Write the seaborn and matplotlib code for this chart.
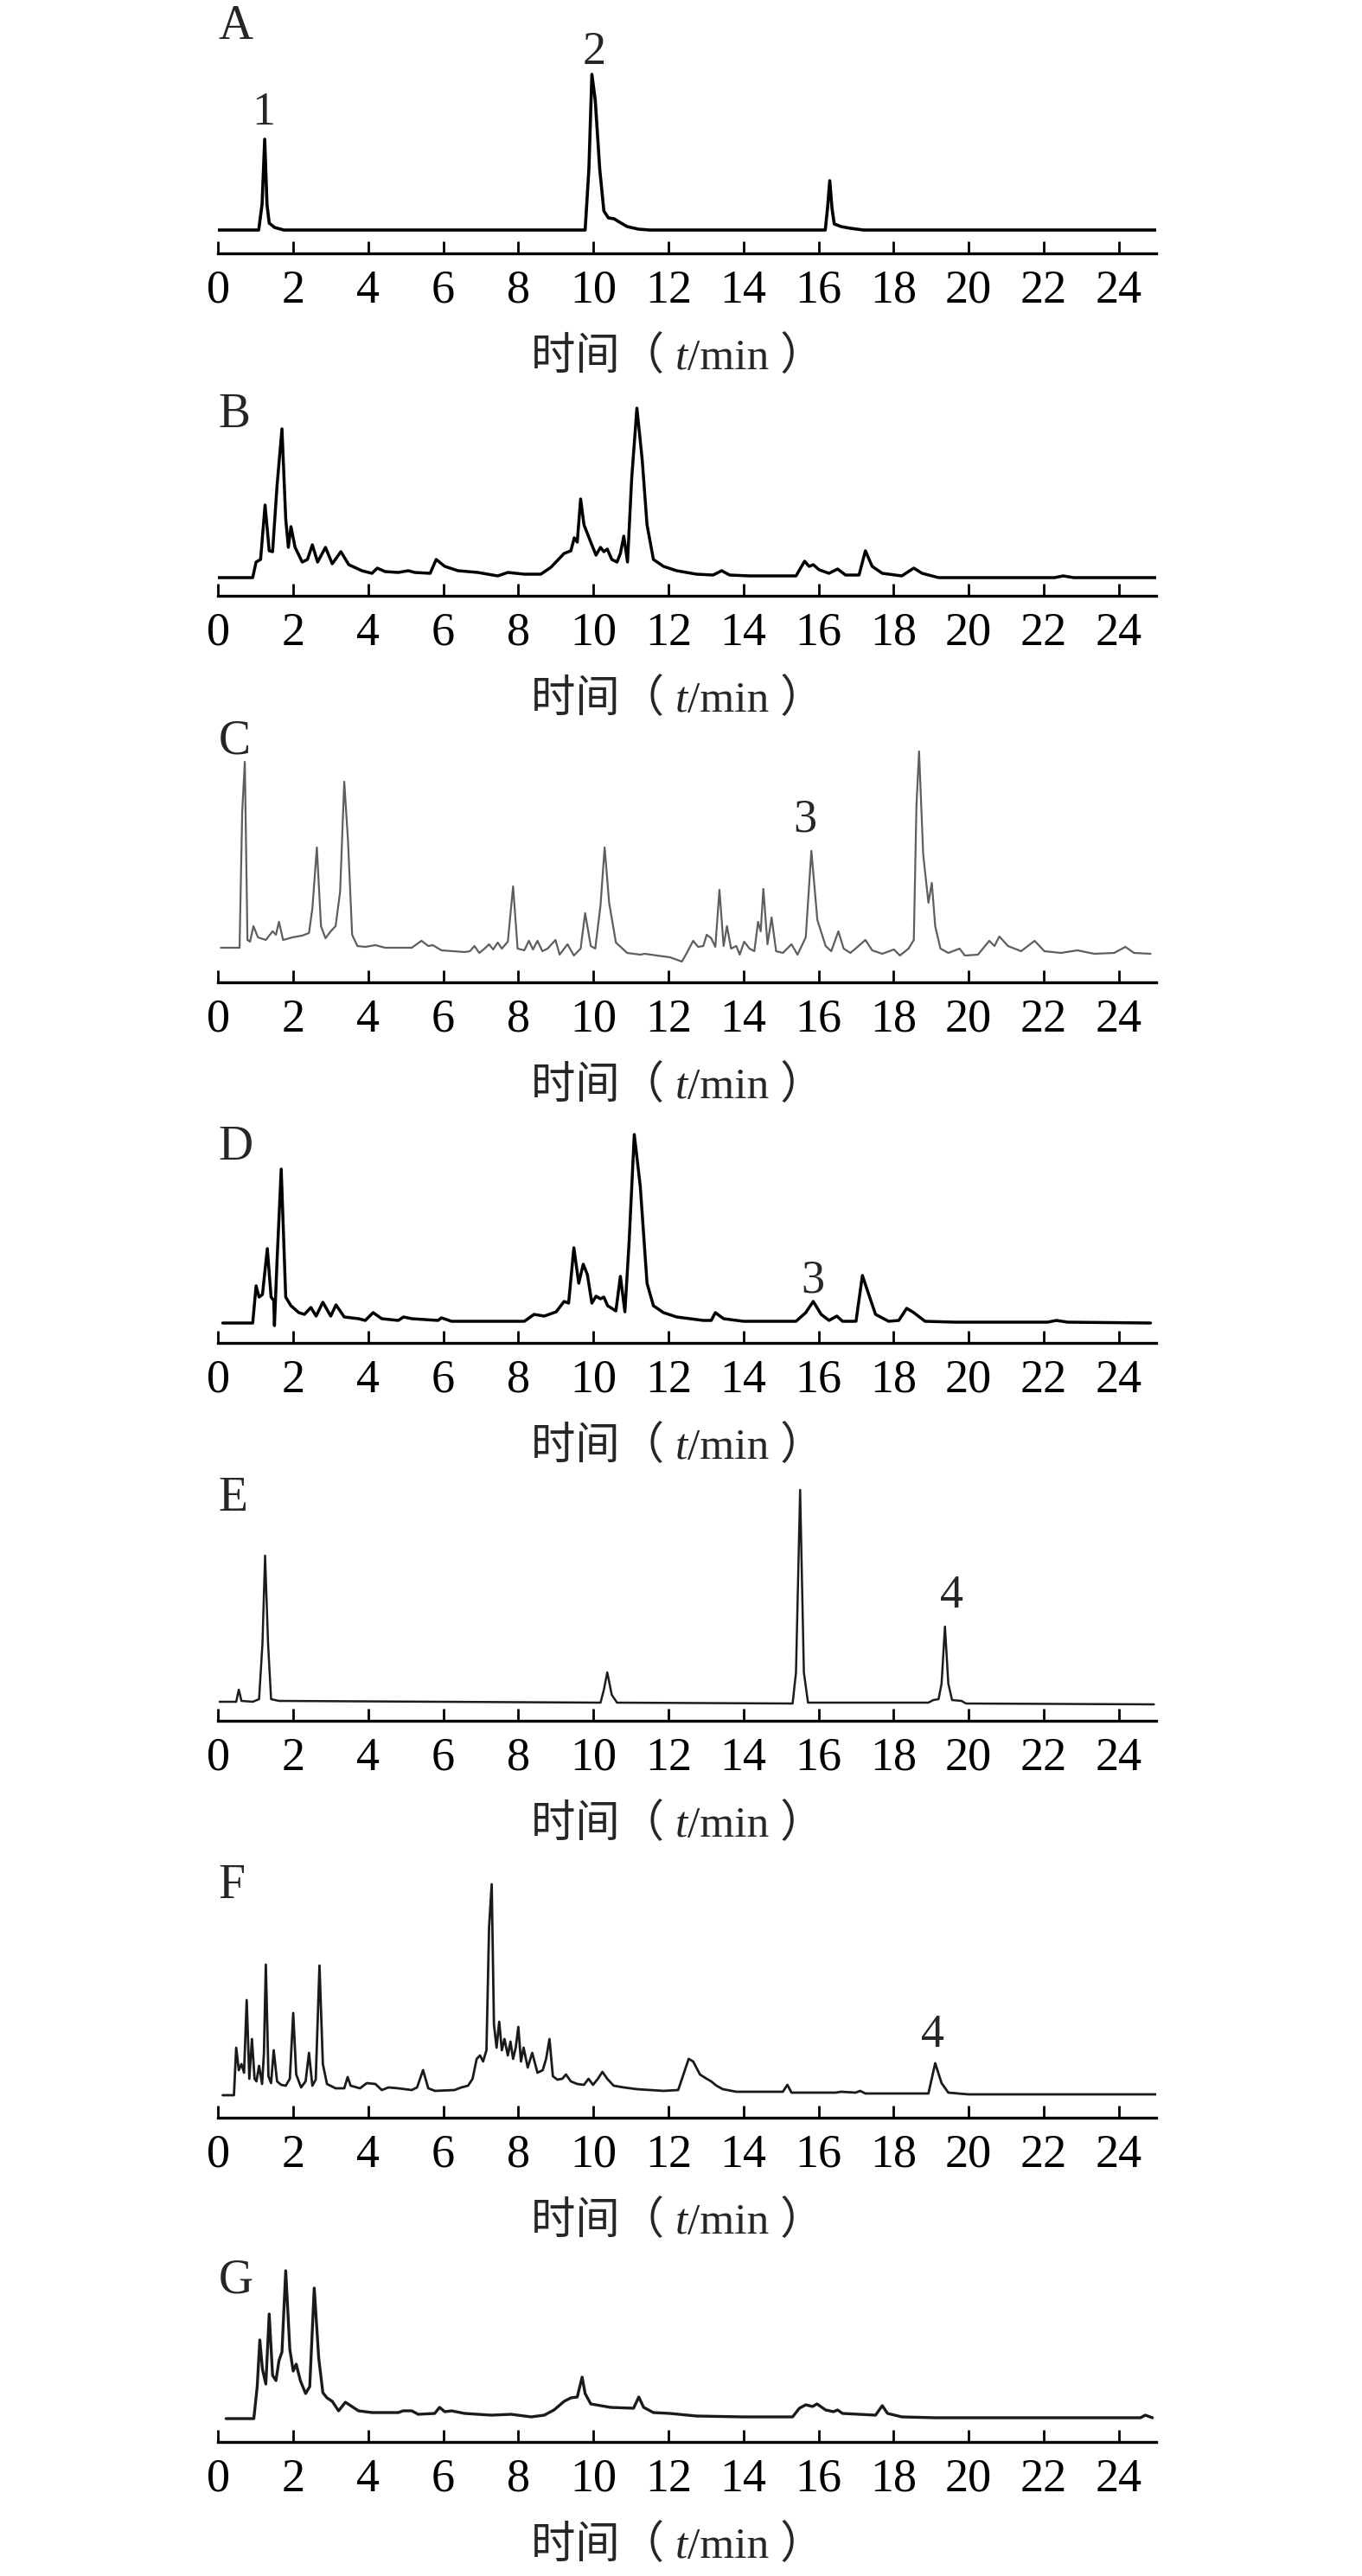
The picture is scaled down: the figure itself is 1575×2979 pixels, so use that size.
import seaborn as sns
import matplotlib.pyplot as plt
from matplotlib.offsetbox import TextArea, HPacker, AnnotationBbox

sns.set_style('white')
plt.rcParams['font.family'] = ['Liberation Serif', 'Noto Sans CJK SC']
plt.rcParams['axes.unicode_minus'] = False

# 色谱图数据: 保留时间 (min) / 响应值 (相对单位)
t_a = [0, 1.08, 1.17, 1.24, 1.30, 1.36, 1.50, 1.75, 9.78, 9.88, 9.96, 10.05, 10.17, 10.28, 10.40, 10.55,
       10.70, 10.90, 11.20, 11.50, 16.18, 16.24, 16.30, 16.36, 16.42, 16.60, 16.85, 17.20, 25.0]
i_a = [0, 0, 30, 105, 30, 8, 3, 0, 0, 70, 180, 150, 70, 22, 14, 13,
       9, 4, 1, 0, 0, 25, 57, 25, 7, 4, 2, 0, 0]

t_b = [0, 0.92, 1.01, 1.13, 1.25, 1.36, 1.45, 1.57, 1.70, 1.80, 1.87, 1.94, 2.05, 2.24, 2.38, 2.51, 2.65,
       2.86, 3.04, 3.27, 3.48, 3.83, 4.10, 4.24, 4.45, 4.80, 5.07, 5.24, 5.65, 5.81, 6.04, 6.39, 6.92, 7.45,
       7.72, 8.16, 8.60, 8.87, 9.22, 9.40, 9.49, 9.57, 9.66, 9.75, 9.93, 10.07, 10.19, 10.28, 10.37, 10.49,
       10.63, 10.72, 10.81, 10.91, 11.02, 11.16, 11.30, 11.43, 11.60, 11.87, 12.22, 12.75, 13.19, 13.42,
       13.63, 14.16, 15.40, 15.63, 15.75, 15.86, 16.02, 16.28, 16.51, 16.72, 17.08, 17.25, 17.43, 17.70,
       18.22, 18.54, 18.76, 19.20, 22.29, 22.52, 22.80, 25.0]
i_b = [0, 0, 18, 21, 84, 31, 30, 107, 172, 68, 35, 59, 35, 18, 21, 38, 18,
       35, 16, 30, 15, 8, 5, 11, 7, 6, 8, 6, 5, 21, 13, 8, 6, 2,
       6, 4, 4, 12, 28, 31, 46, 41, 91, 61, 41, 26, 35, 30, 33, 21,
       18, 28, 48, 18, 114, 196, 137, 61, 21, 13, 8, 4, 3, 8,
       3, 2, 2, 19, 13, 15, 9, 5, 10, 3, 3, 31, 13, 5,
       2, 11, 5, 0, 0, 2, 0, 0]

t_c = [0.07, 0.57, 0.64, 0.71, 0.78, 0.85, 0.94, 1.06, 1.27, 1.45, 1.54, 1.62, 1.73, 1.98, 2.24, 2.42,
       2.51, 2.63, 2.74, 2.86, 3.00, 3.13, 3.25, 3.36, 3.46, 3.57, 3.71, 3.92, 4.19, 4.45, 5.16, 5.42,
       5.60, 5.72, 5.95, 6.57, 6.71, 6.83, 6.96, 7.10, 7.22, 7.33, 7.45, 7.56, 7.72, 7.86, 7.98, 8.16,
       8.28, 8.39, 8.51, 8.64, 8.78, 8.99, 9.10, 9.31, 9.48, 9.66, 9.78, 9.93, 10.05, 10.19, 10.30, 10.42,
       10.60, 10.90, 11.25, 11.37, 11.69, 12.04, 12.36, 12.49, 12.66, 12.79, 12.93, 13.02, 13.14, 13.25,
       13.36, 13.47, 13.56, 13.67, 13.81, 13.90, 14.02, 14.16, 14.29, 14.39, 14.46, 14.53, 14.64, 14.75,
       14.87, 15.05, 15.28, 15.44, 15.66, 15.81, 15.97, 16.19, 16.34, 16.53, 16.67, 16.85, 17.04, 17.25,
       17.43, 17.70, 18.01, 18.17, 18.40, 18.54, 18.61, 18.68, 18.79, 18.93, 19.02, 19.11, 19.25, 19.46,
       19.76, 19.90, 20.25, 20.55, 20.69, 20.82, 21.05, 21.40, 21.76, 22.02, 22.46, 22.90, 23.35, 23.88,
       24.18, 24.41, 24.85]
i_c = [1, 1, 158, 216, 10, 8, 26, 13, 10, 20, 16, 31, 10, 13, 15, 18,
       46, 117, 26, 12, 20, 26, 66, 193, 125, 16, 3, 2, 4, 1, 1, 9,
       3, 4, -2, -4, -3, 3, -5, 0, 5, -1, 7, 0, 8, 72, 0, -2,
       9, -1, 9, -3, 0, 10, -7, 5, -8, 0, 41, 3, 0, 50, 117, 53,
       7, -5, -7, -6, -8, -10, -15, -5, 9, 2, 3, 16, 12, 2,
       68, 3, 26, 0, 3, -7, 8, 0, -3, 31, 20, 69, 5, 36,
       -3, -5, 5, -7, 13, 113, 33, 3, -3, 20, 0, -5, 2, 10,
       -2, -6, -1, -8, 0, 10, 165, 228, 109, 53, 76, 26, 0, -5,
       0, -8, -7, 9, 3, 14, 3, -3, 9, -3, -5, -2, -6, -5,
       2, -5, -6]

t_d = [0.12, 0.92, 1.01, 1.09, 1.18, 1.31, 1.41, 1.48, 1.50, 1.57, 1.68, 1.80, 1.94, 2.15, 2.30, 2.47,
       2.61, 2.79, 3.00, 3.14, 3.36, 3.74, 3.92, 4.13, 4.36, 4.80, 4.94, 5.16, 5.86, 5.95, 6.22, 7.63,
       8.16, 8.42, 8.69, 9.01, 9.22, 9.34, 9.48, 9.61, 9.73, 9.84, 9.96, 10.07, 10.19, 10.28, 10.38, 10.49,
       10.60, 10.72, 10.84, 10.95, 11.09, 11.25, 11.43, 11.60, 11.87, 12.22, 12.93, 13.14, 13.25, 13.47,
       14.00, 15.40, 15.66, 15.86, 16.07, 16.28, 16.49, 16.64, 17.00, 17.17, 17.34, 17.52, 17.87, 18.14,
       18.35, 18.54, 18.84, 19.64, 22.11, 22.34, 22.64, 24.85]
i_d = [0, 0, 43, 30, 33, 86, 30, 26, -3, 73, 178, 30, 20, 12, 10, 18,
       8, 24, 8, 21, 7, 5, 3, 12, 5, 3, 7, 5, 3, 6, 2, 2,
       2, 10, 8, 13, 25, 23, 87, 46, 68, 56, 23, 31, 28, 30, 20, 17,
       14, 54, 13, 92, 218, 158, 46, 20, 12, 7, 3, 3, 12, 5,
       2, 2, 12, 25, 10, 3, 8, 2, 2, 55, 33, 10, 2, 3,
       17, 12, 2, 1, 1, 3, 1, 0]

t_e = [0.04, 0.48, 0.55, 0.62, 0.92, 1.09, 1.18, 1.25, 1.33, 1.41, 1.62, 10.19, 10.28, 10.37, 10.49,
       10.63, 15.31, 15.40, 15.51, 15.61, 15.72, 18.93, 19.06, 19.20, 19.28, 19.37, 19.46, 19.56, 19.81,
       19.93, 24.94]
i_e = [0, 0, 14, 1, 0, 3, 67, 169, 67, 3, 1, -1, 14, 34, 8,
       -1, -2, 34, 245, 34, -1, -1, 2, 3, 21, 87, 21, 2, 1,
       -2, -3]

t_f = [0.12, 0.42, 0.48, 0.55, 0.62, 0.69, 0.76, 0.83, 0.90, 0.97, 1.02, 1.09, 1.17, 1.22, 1.27, 1.34,
       1.41, 1.48, 1.57, 1.68, 1.80, 1.91, 2.00, 2.08, 2.21, 2.33, 2.42, 2.51, 2.60, 2.70, 2.79, 2.90,
       3.13, 3.36, 3.45, 3.53, 3.78, 3.96, 4.19, 4.36, 4.54, 4.80, 5.16, 5.30, 5.46, 5.60, 5.78, 6.30,
       6.48, 6.66, 6.78, 6.89, 6.98, 7.06, 7.15, 7.22, 7.29, 7.35, 7.42, 7.49, 7.56, 7.63, 7.72, 7.79,
       7.86, 7.93, 8.00, 8.07, 8.14, 8.25, 8.37, 8.51, 8.65, 8.74, 8.83, 8.92, 9.04, 9.17, 9.27, 9.40,
       9.57, 9.75, 9.87, 9.99, 10.12, 10.24, 10.37, 10.54, 10.81, 11.16, 11.87, 12.26, 12.40, 12.54,
       12.66, 12.84, 13.02, 13.14, 13.28, 13.45, 13.81, 14.69, 15.05, 15.17, 15.28, 16.46, 16.60, 16.99,
       17.11, 17.25, 18.93, 19.11, 19.28, 19.46, 19.99, 25.0]
i_f = [-1, -1, 54, 28, 35, 25, 109, 18, 64, 18, 15, 33, 12, 48, 150, 21,
       13, 51, 15, 11, 10, 18, 94, 23, 8, 15, 48, 10, 17, 149, 35, 12,
       7, 7, 20, 10, 7, 13, 12, 5, 8, 7, 5, 8, 28, 7, 4, 5,
       8, 10, 18, 41, 45, 38, 51, 193, 243, 81, 54, 84, 51, 64, 45, 61,
       41, 54, 78, 38, 54, 31, 48, 25, 28, 41, 64, 21, 17, 18, 23, 15,
       12, 11, 18, 11, 18, 26, 18, 10, 8, 6, 4, 5, 23, 41,
       38, 23, 18, 15, 10, 6, 3, 3, 3, 11, 2, 2, 3, 2,
       4, 1, 1, 36, 13, 2, 0, 0]

t_g = [0.21, 0.95, 1.04, 1.11, 1.18, 1.27, 1.36, 1.45, 1.54, 1.62, 1.70, 1.80, 1.91, 2.00, 2.08, 2.19,
       2.33, 2.44, 2.56, 2.68, 2.79, 2.90, 3.04, 3.21, 3.39, 3.53, 3.74, 4.10, 4.80, 4.93, 5.16, 5.33,
       5.77, 5.90, 6.04, 6.22, 6.57, 7.28, 7.81, 8.34, 8.69, 8.95, 9.22, 9.40, 9.57, 9.70, 9.78, 9.93,
       10.19, 10.46, 11.07, 11.21, 11.34, 11.60, 12.04, 12.75, 13.99, 15.31, 15.49, 15.66, 15.84, 15.96,
       16.19, 16.40, 16.51, 16.64, 17.52, 17.70, 17.84, 18.22, 19.11, 21.76, 24.58, 24.71, 24.90]
i_g = [0, 0, 37, 91, 57, 40, 121, 50, 44, 67, 77, 171, 80, 55, 63, 44,
       29, 37, 151, 70, 30, 24, 20, 9, 19, 15, 9, 7, 7, 9, 9, 5,
       6, 13, 8, 9, 6, 4, 5, 2, 4, 10, 20, 24, 25, 48, 29, 17,
       15, 13, 12, 25, 13, 7, 6, 3, 2, 2, 12, 16, 14, 17,
       10, 8, 10, 6, 4, 15, 6, 2, 1, 1, 1, 4, 1]

panel_names = ['A', 'B', 'C', 'D', 'E', 'F', 'G']
series_t = [t_a, t_b, t_c, t_d, t_e, t_f, t_g]
series_i = [i_a, i_b, i_c, i_d, i_e, i_f, i_g]

# 峰号标注: (面板, 保留时间, 高度, 文字)
peak_panel = ['A', 'A', 'C', 'D', 'E', 'F']
peak_time = [1.20, 10.03, 15.63, 15.84, 19.55, 19.04]
peak_height = [122, 192, 135, 36, 109, 55]
peak_text = ['1', '2', '3', '3', '4', '4']

xticks = list(range(0, 25, 2))

# 版面 (像素)
W, H = 1575, 2979
x_left, x_right = 252.3, 1337
ax_h = 300
spine_y = [293, 689, 1136, 1553, 1990, 2449, 2824]
gap = [27, 21, 39, 23, 22, 27, 27]
label_y = [248, 195, 265, 212, 243, 254, 173]
colors = ['#000000', '#000000', '#5e5e5e', '#000000', '#1c1c1c', '#1a1a1a', '#1a1a1a']
widths = [2.6, 2.5, 1.6, 2.5, 1.8, 2.0, 2.4]

fig = plt.figure(figsize=(W / 100, H / 100), dpi=100)

for k, name in enumerate(panel_names):
    ax = fig.add_axes([x_left / W, 1 - spine_y[k] / H, (x_right - x_left) / W, ax_h / H])
    ax.patch.set_visible(False)
    sns.lineplot(x=series_t[k], y=series_i[k], ax=ax, color=colors[k], linewidth=widths[k],
                 estimator=None, sort=False)
    ax.set_xlim(0, 25)
    ax.set_ylim(-gap[k], ax_h - gap[k])
    ax.set_xticks(xticks)
    ax.set_xticklabels([str(v) for v in xticks])
    ax.set_yticks([])
    ax.set_xlabel('')
    ax.set_ylabel('')
    for s in ['left', 'top', 'right']:
        ax.spines[s].set_visible(False)
    ax.spines['bottom'].set_linewidth(2.4)
    ax.spines['bottom'].set_color('black')
    ax.tick_params(axis='x', direction='in', length=10, width=2, pad=13,
                   labelsize=39, colors='black', bottom=True)

    ax.text(0, label_y[k] - gap[k], name, fontsize=40, ha='left', va='baseline')

    for p, pt, ph, tx in zip(peak_panel, peak_time, peak_height, peak_text):
        if p == name:
            ax.text(pt, ph, tx, fontsize=39, ha='center', va='baseline')

    # 横轴标题: 时间（t/min）, t 为斜体
    parts = [TextArea('时间（ ', textprops=dict(size=37)),
             TextArea('t', textprops=dict(size=37, style='italic', family='Liberation Serif')),
             TextArea('/min ）', textprops=dict(size=37))]
    box = HPacker(children=parts, align='baseline', pad=0, sep=0)
    ab = AnnotationBbox(box, (0.49, 0), xycoords='axes fraction', xybox=(0, -87),
                        boxcoords='offset points', frameon=False, box_alignment=(0.5, 0.5))
    ax.add_artist(ab)

fig.savefig('out.png', dpi=100)
